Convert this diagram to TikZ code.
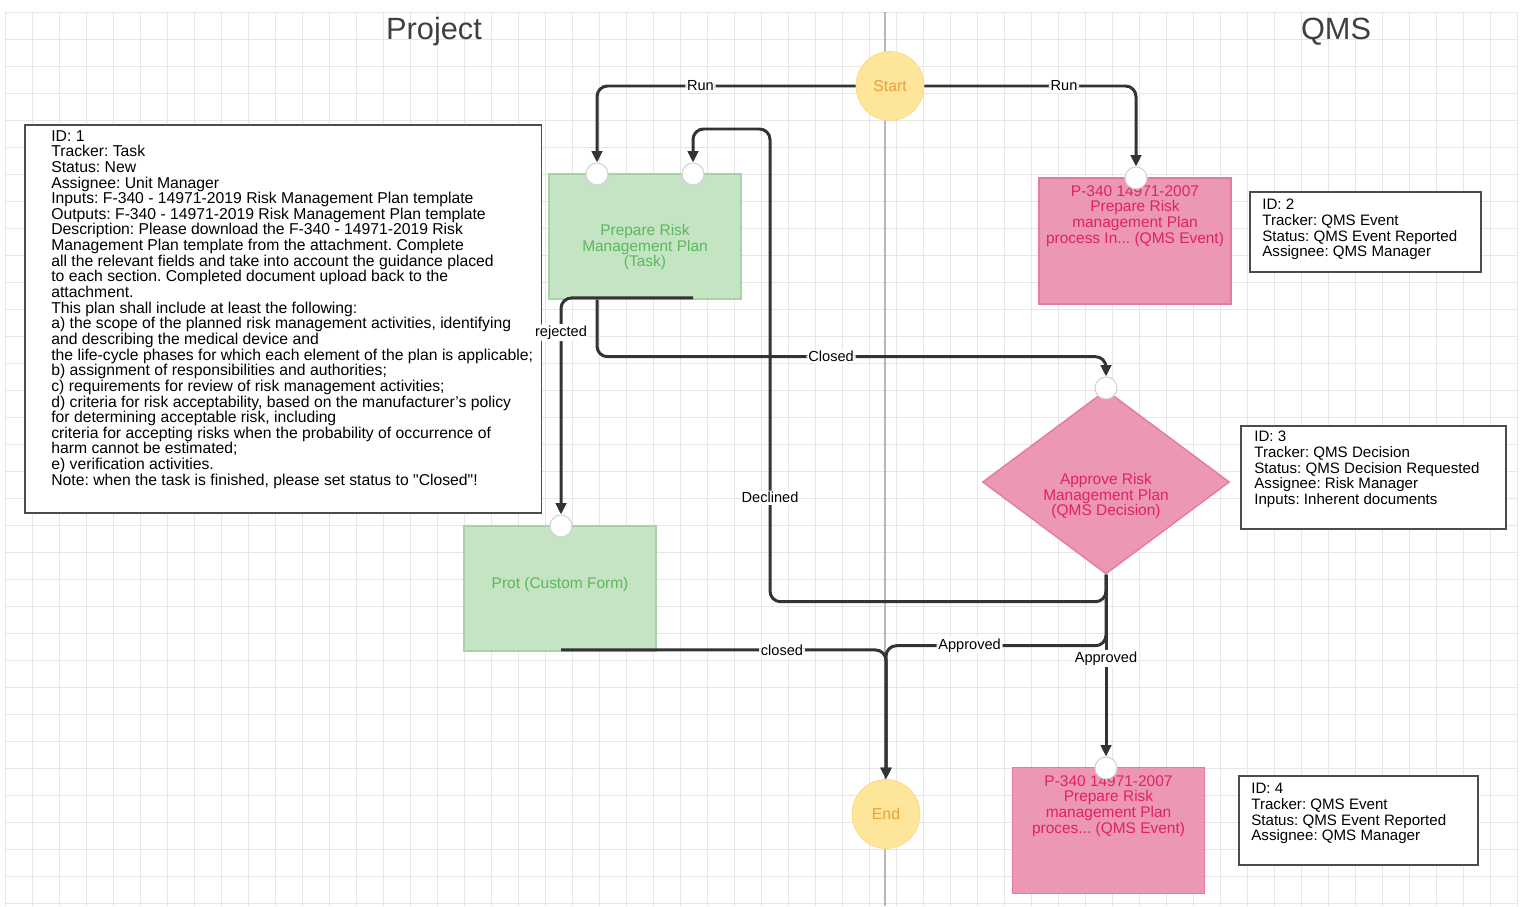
\documentclass[tikz,border=0pt]{standalone}
\usepackage{fontspec}
\setmainfont{Liberation Sans}
\usetikzlibrary{positioning,arrows.meta,shapes.geometric}
\frenchspacing

\definecolor{gridgray}{HTML}{E6E6E6}
\definecolor{lanegray}{HTML}{B8B8B8}
\definecolor{linegray}{HTML}{333333}
\definecolor{taskfill}{HTML}{C4E4C4}
\definecolor{taskline}{HTML}{A6D4A6}
\definecolor{tasktext}{HTML}{5CB85C}
\definecolor{qmsfill}{HTML}{EC97B3}
\definecolor{qmsline}{HTML}{E47CA0}
\definecolor{qmstext}{HTML}{E0235F}
\definecolor{evfill}{HTML}{FDE59A}
\definecolor{evtext}{HTML}{EBA03A}

\begin{document}
\begin{tikzpicture}[x=0.02cm,y=-0.02cm,>={Triangle[length=6.5pt,width=6pt]},
  flow/.style={->,draw=linegray,line width=1.7pt,rounded corners=6pt},
  lbl/.style={fill=white,inner sep=1pt,font=\fontsize{8.3}{9}\selectfont},
  port/.style={circle,fill=white,draw=gray!35,line width=0.6pt,minimum size=0.44cm,inner sep=0pt},
  event/.style={ellipse,fill=evfill,draw=evfill!85!orange,line width=0.4pt,minimum width=1.36cm,minimum height=1.38cm,
    text=evtext,font=\fontsize{9}{10}\selectfont},
  taskbox/.style={rectangle,fill=taskfill,draw=taskline,line width=0.8pt,minimum width=3.84cm,minimum height=2.5cm},
  qmsbox/.style={rectangle,fill=qmsfill,draw=qmsline,line width=0.8pt,minimum width=3.84cm,minimum height=2.52cm},
  tasktxt/.style={align=center,text=tasktext,font=\fontsize{8.8}{9}\selectfont},
  qmstxt/.style={align=center,text=qmstext,font=\fontsize{8.8}{9}\selectfont},
  infobox/.style={rectangle,draw=black!70,line width=0.9pt,fill=white,anchor=north west},
  infotxt/.style={align=left,anchor=north west,inner sep=0pt,font=\fontsize{8.6}{8.9}\selectfont},
  title/.style={text=black!75,font=\fontsize{17.5}{20}\selectfont}]

  \useasboundingbox (0,0) rectangle (1521,906);

  % background grid and lanes
  \foreach \gx in {5,32,...,1517} \draw[gridgray,line width=0.5pt] (\gx,12) -- (\gx,906);
  \foreach \gy in {12,39,...,906} \draw[gridgray,line width=0.5pt] (5,\gy) -- (1517,\gy);
  \draw[lanegray,line width=0.6pt] (885,12) -- (885,906);
  \node[title] (project) at (434,32) {Project};
  \node[title] (qms) at (1336,32) {QMS};

  % info boxes
  \node[infobox,minimum width=10.34cm,minimum height=7.76cm] (info1) at (24,124) {};
  \node[infotxt,font=\fontsize{8.95}{8.9}\selectfont] (info1txt) at (51,130) {ID: 1\\Tracker: Task\\Status: New\\Assignee: Unit Manager\\
    Inputs: F-340 - 14971-2019 Risk Management Plan template\\
    Outputs: F-340 - 14971-2019 Risk Management Plan template\\
    Description: Please download the F-340 - 14971-2019 Risk\\
    Management Plan template from the attachment. Complete\\
    all the relevant fields and take into account the guidance placed\\
    to each section. Completed document upload back to the\\
    attachment.\\
    This plan shall include at least the following:\\
    a) the scope of the planned risk management activities, identifying\\
    and describing the medical device and\\
    the life-cycle phases for which each element of the plan is applicable;\\
    b) assignment of responsibilities and authorities;\\
    c) requirements for review of risk management activities;\\
    d) criteria for risk acceptability, based on the manufacturer's policy\\
    for determining acceptable risk, including\\
    criteria for accepting risks when the probability of occurrence of\\
    harm cannot be estimated;\\
    e) verification activities.\\
    Note: when the task is finished, please set status to \textquotedbl Closed\textquotedbl!};

  \node[infobox,minimum width=4.62cm,minimum height=1.6cm] (info2) at (1249,191) {};
  \node[infotxt] (info2txt) at (1262,199) {ID: 2\\Tracker: QMS Event\\Status: QMS Event Reported\\Assignee: QMS Manager};

  \node[infobox,minimum width=5.3cm,minimum height=2.06cm] (info3) at (1240,425) {};
  \node[infotxt] (info3txt) at (1254,431) {ID: 3\\Tracker: QMS Decision\\Status: QMS Decision Requested\\Assignee: Risk Manager\\Inputs: Inherent documents};

  \node[infobox,minimum width=4.78cm,minimum height=1.78cm] (info4) at (1238,775) {};
  \node[infotxt] (info4txt) at (1251,783) {ID: 4\\Tracker: QMS Event\\Status: QMS Event Reported\\Assignee: QMS Manager};

  % events
  \node[event] (start) at (890,86) {Start};
  \node[event] (end) at (886,814) {End};

  % tasks
  \node[taskbox] (task) at (645,236.5) {};
  \node[tasktxt] (tasklbl) at (645,247) {Prepare Risk\\Management Plan\\(Task)};
  \node[taskbox] (prot) at (560,588.5) {};
  \node[tasktxt] (protlbl) at (560,584) {Prot (Custom Form)};

  % qms items
  \node[qmsbox] (qms1) at (1135,241) {};
  \node[qmstxt] (qms1lbl) at (1135,216) {P-340 14971-2007\\Prepare Risk\\management Plan\\process In... (QMS Event)};
  \node[diamond,fill=qmsfill,draw=qmsline,line width=0.8pt,inner sep=0pt,
        minimum width=4.94cm,minimum height=3.68cm] (dec) at (1106,482) {};
  \node[qmstxt] (declbl) at (1106,496) {Approve Risk\\Management Plan\\(QMS Decision)};
  \node[qmsbox] (qms2) at (1108.5,830.5) {};
  \node[qmstxt] (qms2lbl) at (1108.5,806) {P-340 14971-2007\\Prepare Risk\\management Plan\\proces... (QMS Event)};

  % ports
  \node[port] (tp1) at (597,174) {};
  \node[port] (tp2) at (693,174) {};
  \node[port] (pp) at (561,526) {};
  \node[port] (qp1) at (1136,178) {};
  \node[port] (dp) at (1106,388) {};
  \node[port] (qp2) at (1106,768) {};
  \coordinate (back) at (770,129);

  % connectors
  \draw[flow] (start.west) -| node[lbl,pos=0.3]{Run} (tp1);
  \draw[flow] (start.east) -| node[lbl,pos=0.33]{Run} (qp1);
  \draw[flow] (tp1 |- task.south) -- ++(0,57) -| node[lbl,pos=0.23]{Closed} (dp);
  \draw[flow] ([yshift=1pt]tp2 |- task.south) -| node[lbl,pos=0.58]{rejected} (pp);
  \draw[flow] (dec.south) -- ++(0,27) -| node[lbl,pos=0.61]{Declined} (back) -| (tp2);
  \draw[flow] ([yshift=1pt]pp |- prot.south) -| node[lbl,pos=0.34]{closed} (end);
  \draw[flow] (dec.south) -- ++(0,71) -| node[lbl,pos=0.31]{Approved} (end);
  \draw[flow] (dec.south) -- node[lbl,pos=0.46]{Approved} (qp2);
\end{tikzpicture}
\end{document}
